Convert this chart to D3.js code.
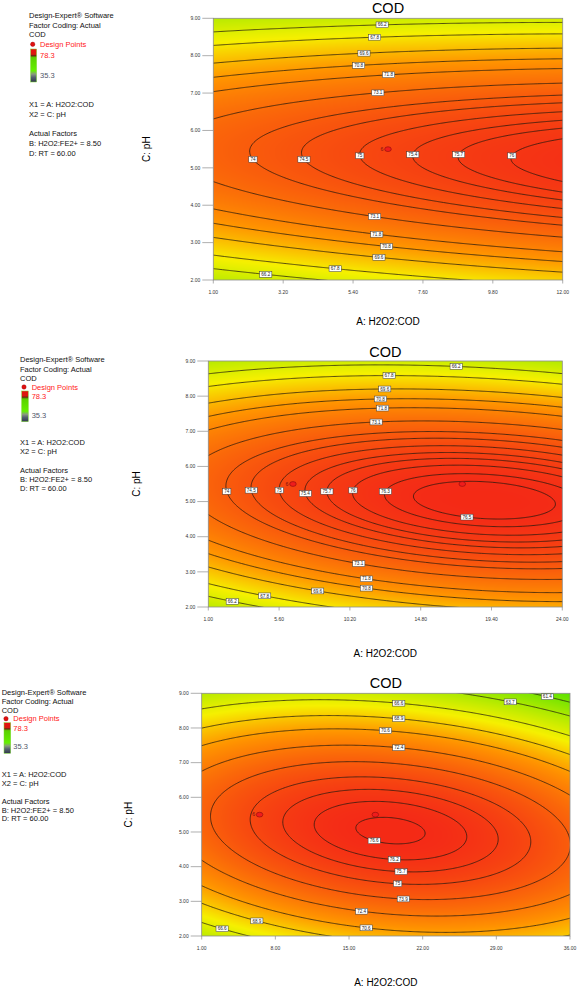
<!DOCTYPE html>
<html><head><meta charset="utf-8">
<script src="https://cdn.jsdelivr.net/npm/d3@7"></script>
<style>
body{margin:0;background:#fff}
svg{display:block}
text{font-family:Arial,"Liberation Sans",Helvetica,sans-serif}
</style>
</head><body>
<svg id="chart" width="578" height="987"></svg>
<script>
// ---------------- DATA ----------------
const responseName = "COD";
// Fitted quadratic model in actual factors (estimated from the contour geometry):
// COD = b0 + bA*A + bP*pH + bAP*A*pH + bAA*A^2 + bPP*pH^2
const modelCoefficients = [50.93, 0.5582, 8.131, -0.03552, -0.01001, -0.74];
const responseRange = [35.3, 78.3];
const phTicks = [2, 3, 4, 5, 6, 7, 8, 9];
const aTicksPanel1 = [1.00, 3.20, 5.40, 7.60, 9.80, 12.00];
const aTicksPanel2 = [1.00, 5.60, 10.20, 14.80, 19.40, 24.00];
const aTicksPanel3 = [1.00, 8.00, 15.00, 22.00, 29.00, 36.00];
const levelsPanel1 = [66.2, 67.8, 69.6, 70.8, 71.8, 73.1, 74, 74.5, 75, 75.4, 75.7, 76];
const levelsPanel2 = [66.2, 67.8, 69.6, 70.8, 71.8, 73.1, 74, 74.5, 75, 75.4, 75.7, 76, 76.3, 76.5];
const levelsPanel3 = [61.4, 63.7, 66.6, 68.9, 70.6, 72.4, 73.9, 75, 75.7, 76.2, 76.6];
const designPointA = [6.5, 17.5];
const designPointPH = [5.5, 5.5];
const designPointReps = ["6", ""];
const headerLines = ["Design-Expert\u00AE Software", "Factor Coding: Actual", "COD"];
const legendLabels = ["Design Points", "78.3", "35.3"];
const factorLines = ["X1 = A: H2O2:COD", "X2 = C: pH", "Actual Factors", "B: H2O2:FE2+ = 8.50", "D: RT = 60.00"];
const xAxisTitle = "A: H2O2:COD";
const yAxisTitle = "C: pH";

// ---------------- LAYOUT ----------------
const panels = [
  { aTicks: aTicksPanel1, levels: levelsPanel1, x0: 213.3, x1: 562.7, y0: 18.3, y1: 280,
    titleY: 13.3, xTitleY: 321, yTitleX: 146.7,
    tx: 29, dotX: 32.7, redX: 40, barX: 30.6, barW: 6, barY0: 49, barY1: 82,
    lineY: [15.7, 25, 34.7, 44.3, 55, 75, 104.3, 114.3, 133.7, 143.7, 153.3],
    labels: [[66.2,6.3,8.8],[67.8,6.09,8.51],[69.6,5.75,8.06],[70.8,5.57,7.72],[71.8,6.51,7.46],[73.1,6.18,6.97],
             [74,2.4,5.34],[74.5,4.02,5.34],[75,5.75,5.34],[75.4,7.35,5.34],[75.7,8.77,5.34],[76,10.37,5.34],
             [73.1,6.09,3.8],[71.8,6.14,3.25],[70.8,6.44,2.94],[69.6,6.2,2.61],[67.8,4.85,2.4],[66.2,2.68,2.26]] },
  { aTicks: aTicksPanel2, levels: levelsPanel2, x0: 208.3, x1: 562.3, y0: 361, y1: 607,
    titleY: 356.5, xTitleY: 653.3, yTitleX: 136.7,
    tx: 20, dotX: 24, redX: 31.7, barX: 21.7, barW: 6.6, barY0: 391, barY1: 421.7,
    lineY: [359.3, 369, 378, 387, 396, 415, 442.3, 451.7, 470, 479, 488.3],
    labels: [[66.2,17.14,8.91],[67.8,12.76,8.65],[69.6,12.48,8.27],[70.8,12.18,7.98],[71.8,12.3,7.6],[73.1,11.94,7.23],
             [74,2.41,5.33],[74.5,3.97,5.33],[75,5.7,5.33],[75.4,7.39,5.24],[75.7,8.8,5.29],[76,10.36,5.33],[76.3,12.37,5.33],[76.5,17.8,4.64],
             [73.1,10.79,3.32],[71.8,11.33,2.88],[70.8,11.33,2.62],[69.6,8.17,2.55],[67.8,4.73,2.42],[66.2,2.62,2.28]] },
  { aTicks: aTicksPanel3, levels: levelsPanel3, x0: 201.7, x1: 570, y0: 693.3, y1: 936,
    titleY: 688, xTitleY: 982.3, yTitleX: 128.3,
    tx: 1.7, dotX: 6, redX: 13.3, barX: 4, barW: 6.7, barY0: 722.7, barY1: 753.3,
    lineY: [692.3, 701.3, 710, 718.7, 728.3, 746.7, 774, 783.3, 801.7, 810.3, 818.8],
    labels: [[61.4,33.8,8.9],[63.7,30.3,8.74],[66.6,19.76,8.76],[68.9,19.76,8.31],[70.6,18.47,7.94],[72.4,19.76,7.48],
             [76.6,17.47,4.8],[76.2,19.3,4.29],[75.7,19.95,3.93],[75,19.6,3.59],[73.9,20.2,3.13],[72.4,16.2,2.78],
             [70.6,16.7,2.31],[68.9,6.29,2.54],[66.6,3.05,2.31]] }
];

const svg = d3.select("#chart");
const defs = svg.append("defs");

function cod(A, P) {
  const [b0, bA, bP, bAP, bAA, bPP] = modelCoefficients;
  return b0 + bA * A + bP * P + bAP * A * P + bAA * A * A + bPP * P * P;
}

const lo = responseRange[0], hi = responseRange[1];
const color = d3.scaleLinear()
  .domain([lo, 47, 58.5, 67.5, 71, 76.5, hi])
  .range(["#2020d0", "#00d8e8", "#40e000", "#f6f000", "#ff9400", "#f42c16", "#f01610"])
  .clamp(true);

// legend bar gradient
const grad = defs.append("linearGradient").attr("id", "legbar").attr("x1", 0).attr("x2", 0).attr("y1", 0).attr("y2", 1);
[[0, "#e81010"], [0.16, "#d81a10"], [0.2, "#6a2a10"], [0.26, "#5ad000"], [0.66, "#66f000"], [0.76, "#8a9a80"], [0.86, "#556070"], [1, "#30384a"]]
  .forEach(s => grad.append("stop").attr("offset", s[0]).attr("stop-color", s[1]));

panels.forEach((p, idx) => {
  const g = svg.append("g");
  const aDom = [p.aTicks[0], p.aTicks[p.aTicks.length - 1]];
  const pDom = [phTicks[0], phTicks[phTicks.length - 1]];
  const xs = d3.scaleLinear().domain(aDom).range([p.x0, p.x1]);
  const ys = d3.scaleLinear().domain(pDom).range([p.y1, p.y0]);

  // --- heat map ---
  const W = Math.round(p.x1 - p.x0), H = Math.round(p.y1 - p.y0);
  const cv = document.createElement("canvas");
  cv.width = W; cv.height = H;
  const ctx = cv.getContext("2d");
  const img = ctx.createImageData(W, H);
  for (let j = 0; j < H; j++) {
    for (let i = 0; i < W; i++) {
      const A = xs.invert(p.x0 + (i + 0.5) * (p.x1 - p.x0) / W);
      const P = ys.invert(p.y0 + (j + 0.5) * (p.y1 - p.y0) / H);
      const c = d3.rgb(color(cod(A, P)));
      const k = (j * W + i) * 4;
      img.data[k] = c.r; img.data[k + 1] = c.g; img.data[k + 2] = c.b; img.data[k + 3] = 255;
    }
  }
  ctx.putImageData(img, 0, 0);
  g.append("image").attr("href", cv.toDataURL())
    .attr("x", p.x0).attr("y", p.y0).attr("width", p.x1 - p.x0).attr("height", p.y1 - p.y0)
    .attr("preserveAspectRatio", "none");

  // --- contours ---
  const clipId = "clip" + idx;
  defs.append("clipPath").attr("id", clipId).append("rect")
    .attr("x", p.x0).attr("y", p.y0).attr("width", p.x1 - p.x0).attr("height", p.y1 - p.y0);
  const nx = 360, ny = 240;
  const padA = (aDom[1] - aDom[0]) * 0.05;
  const aExt = [aDom[0] - padA, aDom[1] + padA];
  const pExt = [pDom[0] - 0.35, pDom[1] + 0.35];
  const values = new Float64Array(nx * ny);
  for (let j = 0; j < ny; j++) {
    const P = pExt[0] + (j + 0.5) / ny * (pExt[1] - pExt[0]);
    for (let i = 0; i < nx; i++) {
      const A = aExt[0] + (i + 0.5) / nx * (aExt[1] - aExt[0]);
      values[j * nx + i] = cod(A, P);
    }
  }
  const contours = d3.contours().size([nx, ny]).thresholds(p.levels)(values);
  const gx = x => xs(aExt[0] + x / nx * (aExt[1] - aExt[0]));
  const gy = y => ys(pExt[0] + y / ny * (pExt[1] - pExt[0]));
  const path = d3.geoPath(d3.geoTransform({ point(x, y) { this.stream.point(gx(x), gy(y)); } }));
  g.append("g").attr("clip-path", `url(#${clipId})`)
    .selectAll("path").data(contours).join("path")
    .attr("d", path).attr("fill", "none").attr("stroke", "#221a10").attr("stroke-width", 0.75);

  // --- plot frame & axes ---
  g.append("rect").attr("x", p.x0).attr("y", p.y0).attr("width", p.x1 - p.x0).attr("height", p.y1 - p.y0)
    .attr("fill", "none").attr("stroke", "#8c8c8c").attr("stroke-width", 0.8);
  const yAxis = g.append("g");
  phTicks.forEach(v => {
    yAxis.append("line").attr("x1", p.x0 - 11).attr("x2", p.x0).attr("y1", ys(v)).attr("y2", ys(v))
      .attr("stroke", "#8c8c8c").attr("stroke-width", 0.7);
    yAxis.append("text").attr("x", p.x0 - 13).attr("y", ys(v)).attr("dy", "0.35em")
      .attr("text-anchor", "end").attr("font-size", 5).attr("fill", "#333").text(d3.format(".2f")(v));
  });
  const xAxis = g.append("g");
  p.aTicks.forEach(v => {
    xAxis.append("line").attr("x1", xs(v)).attr("x2", xs(v)).attr("y1", p.y1).attr("y2", p.y1 + 3.5)
      .attr("stroke", "#8c8c8c").attr("stroke-width", 0.7);
    xAxis.append("text").attr("x", xs(v)).attr("y", p.y1 + 12.5).attr("dy", "0.35em")
      .attr("text-anchor", "middle").attr("font-size", 5).attr("fill", "#333").text(d3.format(".2f")(v));
  });

  // --- contour labels (snapped to nearest point of their contour) ---
  const lab = g.append("g");
  p.labels.forEach(([lev, A, P]) => {
    const cont = contours.find(c => Math.abs(c.value - lev) < 1e-9);
    if (!cont) return;
    const tx = xs(A), ty = ys(P);
    let best = null, bd = Infinity;
    cont.coordinates.forEach(poly => poly.forEach(ring => ring.forEach(([x, y]) => {
      const px = gx(x), py = gy(y);
      if (px < p.x0 + 2 || px > p.x1 - 2 || py < p.y0 + 2 || py > p.y1 - 2) return;
      const d = (px - tx) ** 2 + (py - ty) ** 2;
      if (d < bd) { bd = d; best = [px, py]; }
    })));
    if (!best) best = [tx, ty];
    const lg = lab.append("g");
    const rect = lg.append("rect");
    const t = lg.append("text").attr("x", best[0]).attr("y", best[1]).attr("dy", "0.36em")
      .attr("text-anchor", "middle").attr("font-size", 4.6).attr("fill", "#222").text(String(lev));
    const w = t.node().getComputedTextLength();
    rect.attr("x", best[0] - w / 2 - 1.6).attr("y", best[1] - 2.9).attr("width", w + 3.2).attr("height", 5.8)
      .attr("fill", "#fff").attr("stroke", "#3a3a3a").attr("stroke-width", 0.5);
  });

  // --- design points ---
  designPointA.forEach((A, i) => {
    if (A < aDom[0] || A > aDom[1]) return;
    const cx = xs(A), cy = ys(designPointPH[i]);
    g.append("ellipse").attr("cx", cx).attr("cy", cy).attr("rx", 3.3).attr("ry", 2.4)
      .attr("fill", "#f01c1c").attr("stroke", "#8a0c0c").attr("stroke-width", 0.6);
    if (designPointReps[i]) {
      g.append("text").attr("x", cx - 6).attr("y", cy).attr("dy", "0.35em").attr("text-anchor", "middle")
        .attr("font-size", 5.2).attr("fill", "#7a1010").text(designPointReps[i]);
    }
  });

  // --- titles ---
  const cxm = (p.x0 + p.x1) / 2, cym = (p.y0 + p.y1) / 2;
  g.append("text").attr("x", cxm).attr("y", p.titleY).attr("text-anchor", "middle")
    .attr("font-size", 14.5).attr("fill", "#000").text(responseName);
  g.append("text").attr("x", cxm).attr("y", p.xTitleY).attr("dy", "0.35em").attr("text-anchor", "middle")
    .attr("font-size", 10).attr("fill", "#000").text(xAxisTitle);
  g.append("text").attr("transform", `translate(${p.yTitleX},${cym}) rotate(-90)`).attr("dy", "0.35em")
    .attr("text-anchor", "middle").attr("font-size", 10).attr("fill", "#000").text(yAxisTitle);

  // --- info block ---
  const info = g.append("g").attr("font-size", 7.5);
  headerLines.forEach((s, i) => info.append("text").attr("x", p.tx).attr("y", p.lineY[i]).attr("dy", "0.35em").attr("fill", "#111").text(s));
  info.append("circle").attr("cx", p.dotX).attr("cy", p.lineY[3]).attr("r", 2.2).attr("fill", "#e01010").attr("stroke", "#900").attr("stroke-width", 0.4);
  info.append("text").attr("x", p.redX).attr("y", p.lineY[3]).attr("dy", "0.35em").attr("fill", "#ff2020").text(legendLabels[0]);
  info.append("rect").attr("x", p.barX).attr("y", p.barY0).attr("width", p.barW).attr("height", p.barY1 - p.barY0)
    .attr("fill", "url(#legbar)").attr("stroke", "#7cdc30").attr("stroke-width", 0.5);
  info.append("text").attr("x", p.redX).attr("y", p.lineY[4]).attr("dy", "0.35em").attr("fill", "#ff2020").text(legendLabels[1]);
  info.append("text").attr("x", p.redX).attr("y", p.lineY[5]).attr("dy", "0.35em").attr("fill", "#50566a").text(legendLabels[2]);
  factorLines.forEach((s, i) => info.append("text").attr("x", p.tx).attr("y", p.lineY[6 + i]).attr("dy", "0.35em").attr("fill", "#111").text(s));
});
</script>
</body></html>
